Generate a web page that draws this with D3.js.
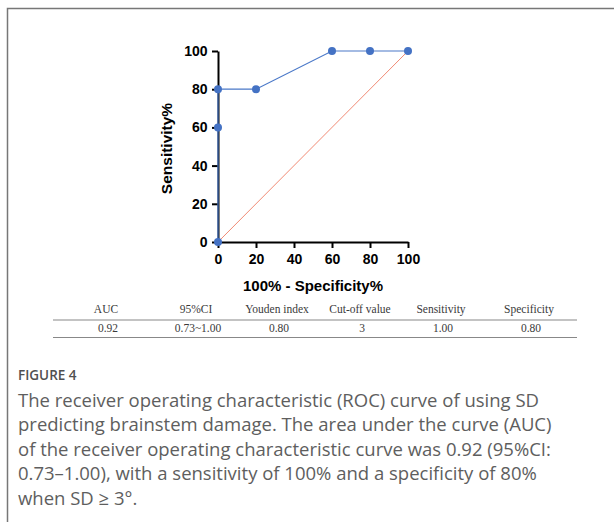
<!DOCTYPE html>
<html>
<head>
<meta charset="utf-8">
<script src="https://cdn.jsdelivr.net/npm/d3@7"></script>
<style>
  body { margin: 0; background: #fff; }
  svg { display: block; }
</style>
</head>
<body>
<div id="chart"></div>
<script>
// ROC points
var fpr = [0, 0, 0, 20, 60, 80, 100];        // 100% - specificity%
var sensitivity = [0, 60, 80, 80, 100, 100, 100];
var xTicks = [0, 20, 40, 60, 80, 100];
var yTicks = [0, 20, 40, 60, 80, 100];

var tableHeaders = ["AUC", "95%CI", "Youden index", "Cut-off value", "Sensitivity", "Specificity"];
var tableValues = ["0.92", "0.73~1.00", "0.80", "3", "1.00", "0.80"];

var captionTitle = "FIGURE 4";
var captionLines = [
    "The receiver operating characteristic (ROC) curve of using SD",
    "predicting brainstem damage. The area under the curve (AUC)",
    "of the receiver operating characteristic curve was 0.92 (95%CI:",
    "0.73\u20131.00), with a sensitivity of 100% and a specificity of 80%",
    "when SD \u2265 3\u00b0."
];

const width = 614;
const height = 522;

const svg = d3.select("#chart").append("svg")
    .attr("width", width)
    .attr("height", height);

// frame around the figure (runs off the right and bottom edges)
svg.append("path")
    .attr("d", "M7.5,530 V8.5 H620")
    .attr("fill", "none")
    .attr("stroke", "#777")
    .attr("stroke-width", 1.5);

const x = d3.scaleLinear().domain([0, 100]).range([218, 408]);
const y = d3.scaleLinear().domain([0, 100]).range([242, 51]);

// reference diagonal
svg.append("line")
    .attr("x1", x(0)).attr("y1", y(0))
    .attr("x2", x(100)).attr("y2", y(100))
    .attr("stroke", "#f08a74")
    .attr("stroke-width", 1);

const xAxis = svg.append("g")
    .attr("transform", `translate(0,${y(0)})`)
    .call(d3.axisBottom(x).tickValues(xTicks).tickSize(6).tickSizeOuter(0));

const yAxis = svg.append("g")
    .attr("transform", `translate(${x(0)},0)`)
    .call(d3.axisLeft(y).tickValues(yTicks).tickSize(6).tickSizeOuter(0));

[xAxis, yAxis].forEach((g) => {
    g.select(".domain").attr("stroke", "#000").attr("stroke-width", 2);
    g.selectAll(".tick line").attr("stroke", "#000").attr("stroke-width", 2);
    g.selectAll(".tick text")
        .attr("fill", "#000")
        .style("font-family", "Liberation Sans, Arial, sans-serif")
        .style("font-size", "14px")
        .style("font-weight", "bold");
});
xAxis.selectAll(".tick text").attr("dy", "0.95em");
yAxis.selectAll(".tick text").attr("dx", "-0.1em");

// roc curve
const pts = fpr.map((d, i) => [d, sensitivity[i]]);

svg.append("path")
    .datum(pts)
    .attr("fill", "none")
    .attr("stroke", "#4a78c8")
    .attr("stroke-width", 1.2)
    .attr("d", d3.line().x((d) => x(d[0])).y((d) => y(d[1])));

svg.selectAll("circle.pt")
    .data(pts)
    .enter()
    .append("circle")
    .attr("class", "pt")
    .attr("cx", (d) => x(d[0]))
    .attr("cy", (d) => y(d[1]))
    .attr("r", 4)
    .attr("fill", "#4472c4");

// axis titles
svg.append("text")
    .attr("x", (x(0) + x(100)) / 2)
    .attr("y", 291)
    .attr("text-anchor", "middle")
    .style("font-family", "Liberation Sans, Arial, sans-serif")
    .style("font-size", "15px")
    .style("font-weight", "bold")
    .text("100% - Specificity%");

svg.append("text")
    .attr("transform", `translate(172,${(y(0) + y(100)) / 2 + 2}) rotate(-90)`)
    .attr("text-anchor", "middle")
    .style("font-family", "Liberation Sans, Arial, sans-serif")
    .style("font-size", "15.5px")
    .style("font-weight", "bold")
    .text("Sensitivity%");

// summary table under the plot
const colX = [106, 196, 277, 360, 441, 529];

const table = svg.append("g")
    .style("font-family", "Liberation Serif, Times New Roman, serif")
    .style("font-size", "11.5px")
    .attr("fill", "#3a3a3a");

table.selectAll("text.head")
    .data(tableHeaders)
    .enter()
    .append("text")
    .attr("class", "head")
    .attr("x", (d, i) => colX[i])
    .attr("y", 313)
    .attr("text-anchor", "middle")
    .text((d) => d);

table.selectAll("text.val")
    .data(tableValues)
    .enter()
    .append("text")
    .attr("class", "val")
    .attr("x", (d, i) => colX[i] + 2)
    .attr("y", 332)
    .attr("text-anchor", "middle")
    .text((d) => d);

[320, 337.5].forEach((yy) => {
    svg.append("line")
        .attr("x1", 53).attr("x2", 577)
        .attr("y1", yy).attr("y2", yy)
        .attr("stroke", "#888")
        .attr("stroke-width", 1.2);
});

// caption
svg.append("text")
    .attr("x", 18)
    .attr("y", 380)
    .style("font-family", "Open Sans, Noto Sans, sans-serif")
    .style("font-size", "13.5px")
    .style("font-weight", "600")
    .attr("fill", "#505050")
    .text(captionTitle);

svg.selectAll("text.cap")
    .data(captionLines)
    .enter()
    .append("text")
    .attr("class", "cap")
    .attr("x", 18)
    .attr("y", (d, i) => 407 + i * 24.4)
    .style("font-family", "Open Sans, Noto Sans, sans-serif")
    .style("font-size", "18.5px")
    .attr("fill", "#5e5e5e")
    .text((d) => d);
</script>
</body>
</html>
